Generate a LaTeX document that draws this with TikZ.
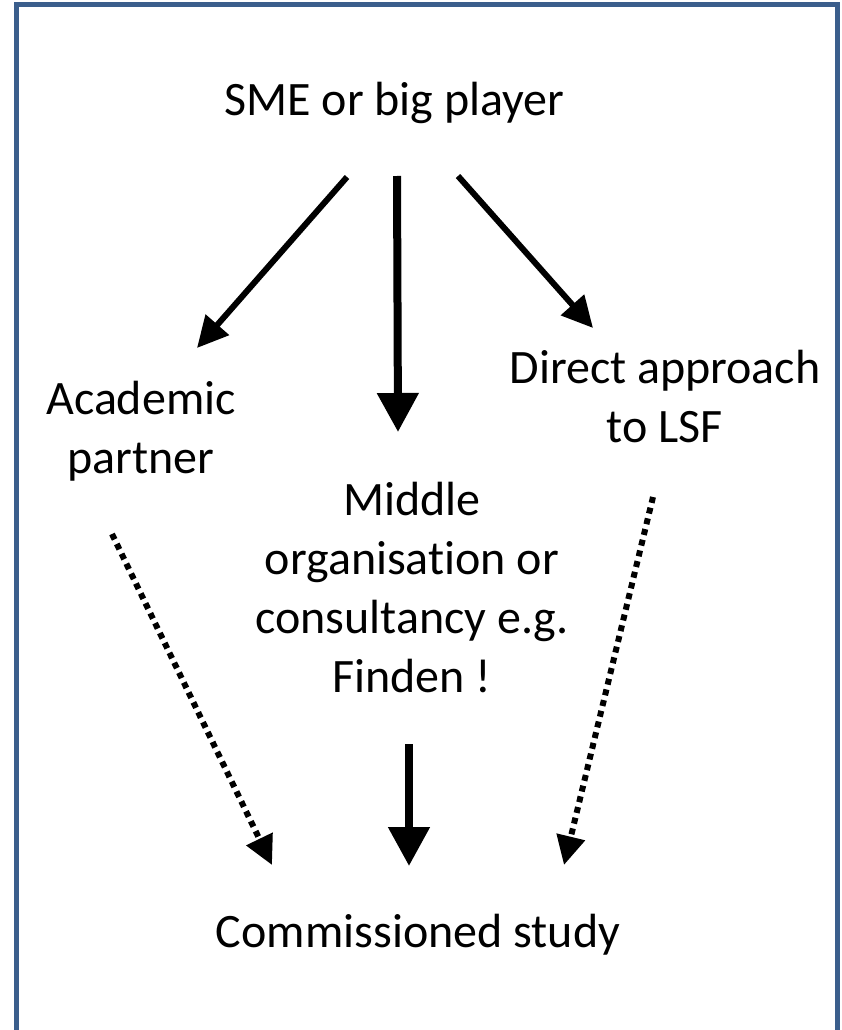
\documentclass[tikz,border=0pt]{standalone}
\usepackage{fontspec}
\setmainfont{Carlito}[Ligatures={NoCommon}]
\usetikzlibrary{arrows.meta}
\definecolor{frameblue}{HTML}{3B5E8C}

\begin{document}
\begin{tikzpicture}[x=1pt, y=-1pt,
  every node/.style={align=center, inner sep=0pt, font=\fontsize{48}{59}\selectfont},
  solidarrow/.style={line width=6pt, -{Triangle[length=31pt, width=30pt]}},
  mainarrow/.style={line width=8pt, -{Triangle[length=39pt, width=40pt]}},
  dotarrow/.style={line width=6pt, dash pattern=on 6pt off 5pt, -{Triangle[length=29pt, width=28pt]}}]

  \useasboundingbox (0,0) rectangle (842,1030);
  \draw[frameblue, line width=5pt] (16.5,4.5) rectangle (837,1036);

  % Nodes
  \node (sme) at (394.5,103) {SME or big player};
  \node (academic) at (141,431) {Academic\\partner};
  \node (middle) at (412,587) {Middle\\organisation or\\consultancy e.g.\\Finden !};
  \node (direct) at (665,397) {Direct approach\\to LSF};
  \node (study) at (418,935) {Commissioned study};

  % Arrow ends
  \coordinate (smeL) at (347,177);
  \coordinate (smeM) at (397,176);
  \coordinate (smeR) at (458,176);
  \coordinate (acaIn) at (197,348);
  \coordinate (midIn) at (398,432);
  \coordinate (dirIn) at (593,328);
  \coordinate (acaOut) at (112,534);
  \coordinate (midOut) at (409,744);
  \coordinate (dirOut) at (653,497);
  \coordinate (studyL) at (272,865);
  \coordinate (studyM) at (409,866);
  \coordinate (studyR) at (564,865);

  % Arrows
  \draw[solidarrow] (smeL) -- (acaIn);
  \draw[mainarrow] (smeM) -- (midIn);
  \draw[solidarrow] (smeR) -- (dirIn);
  \draw[dotarrow] (acaOut) -- (studyL);
  \draw[mainarrow] (midOut) -- (studyM);
  \draw[dotarrow] (dirOut) -- (studyR);

\end{tikzpicture}
\end{document}
